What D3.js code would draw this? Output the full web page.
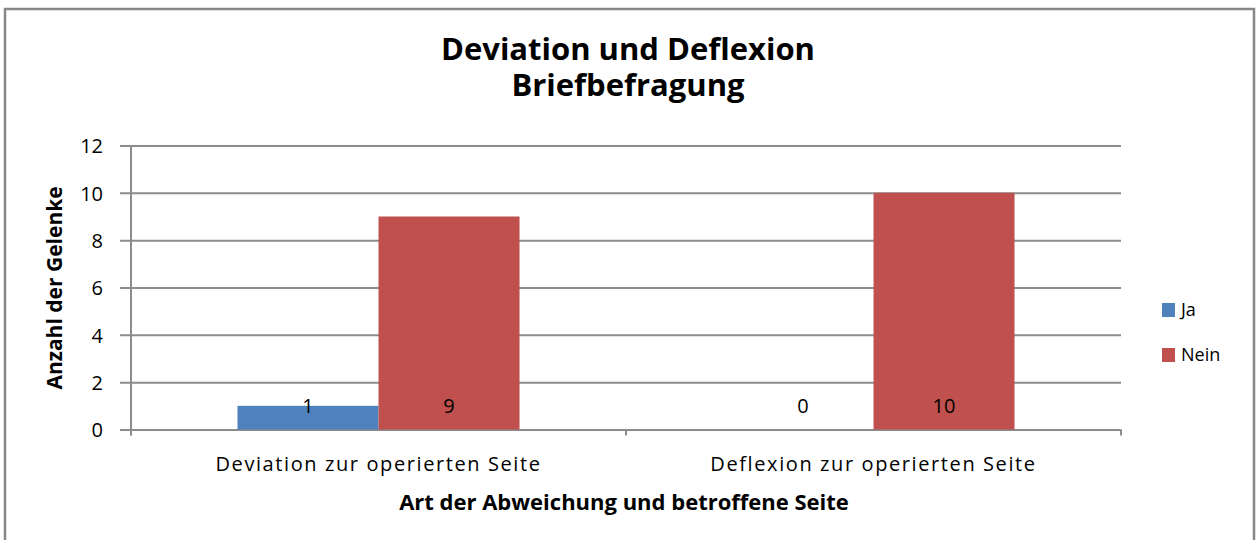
<!DOCTYPE html>
<html>
<head>
<meta charset="utf-8">
<script src="https://cdn.jsdelivr.net/npm/d3@7"></script>
<style>
  html, body { margin: 0; padding: 0; background: #fff; }
  svg { display: block; }
  text { font-family: "Open Sans", "Noto Sans", sans-serif; fill: #000; }
</style>
</head>
<body>
<svg id="chart" width="1256" height="540"></svg>
<script>
const categories = ["Deviation zur operierten Seite", "Deflexion zur operierten Seite"];
const seriesNames = ["Ja", "Nein"];
const jaValues = [1, 0];
const neinValues = [9, 10];
const yTicks = [0, 2, 4, 6, 8, 10, 12];
const titleLines = ["Deviation und Deflexion", "Briefbefragung"];
const yTitle = "Anzahl der Gelenke";
const xTitle = "Art der Abweichung und betroffene Seite";
const colors = ["#4F81BD", "#C0504D"];

const svg = d3.select("#chart");
const plot = { left: 131, right: 1121, top: 145.5, bottom: 429.5 };

// outer frame
svg.append("rect").attr("x", 5).attr("y", 9).attr("width", 1249).attr("height", 560)
  .attr("fill", "#fff").attr("stroke", "#878787").attr("stroke-width", 2.5);

const x0 = d3.scaleBand().domain(categories).range([plot.left, plot.right]).paddingInner(0).paddingOuter(0);
const x1 = d3.scaleBand().domain(seriesNames).range([0, x0.bandwidth()]).paddingInner(0).paddingOuter(0.755);
const y = d3.scaleLinear().domain([0, 12]).range([plot.bottom, plot.top]);

// gridlines + y axis ticks
const yAxis = d3.axisLeft(y).tickValues(yTicks).tickSize(plot.right - plot.left + 11).tickFormat(d => d).tickPadding(17);
const gy = svg.append("g").attr("transform", `translate(${plot.right},0)`).call(yAxis);
gy.select(".domain").remove();
gy.selectAll(".tick line").attr("stroke", "#8c8c8c").attr("stroke-width", 2);
gy.selectAll(".tick text").attr("font-size", 20).attr("fill", "#000").attr("dy", "0.36em")
  .style("font-family", "'Open Sans', sans-serif");

// y axis line
svg.append("line").attr("x1", plot.left).attr("x2", plot.left).attr("y1", plot.top).attr("y2", plot.bottom + 6)
  .attr("stroke", "#8c8c8c").attr("stroke-width", 2);

// x axis ticks
const xBoundaries = [plot.left].concat(categories.map(c => x0(c) + x0.bandwidth()));
svg.selectAll(".xtick").data(xBoundaries).enter().append("line")
  .attr("x1", d => d).attr("x2", d => d).attr("y1", plot.bottom).attr("y2", plot.bottom + 6)
  .attr("stroke", "#8c8c8c").attr("stroke-width", 2);

// bars
const data = categories.map((c, i) => ({ cat: c, vals: [jaValues[i], neinValues[i]] }));
const groups = svg.selectAll(".grp").data(data).enter().append("g")
  .attr("transform", d => `translate(${x0(d.cat)},0)`);
groups.selectAll("rect").data(d => d.vals.map((v, j) => ({ s: seriesNames[j], v, j }))).enter()
  .append("rect")
  .attr("x", d => x1(d.s)).attr("width", x1.bandwidth())
  .attr("y", d => y(d.v)).attr("height", d => y(0) - y(d.v))
  .attr("fill", d => colors[d.j]);
groups.selectAll("text.val").data(d => d.vals.map((v, j) => ({ s: seriesNames[j], v, j }))).enter()
  .append("text").attr("class", "val")
  .attr("x", d => x1(d.s) + x1.bandwidth() / 2).attr("y", y(0) - 17)
  .attr("text-anchor", "middle").attr("font-size", 20)
  .text(d => d.v);

// category labels
svg.selectAll(".catlab").data(categories).enter().append("text")
  .attr("x", d => x0(d) + x0.bandwidth() / 2).attr("y", 471)
  .attr("text-anchor", "middle").attr("font-size", 20).attr("letter-spacing", 1.6)
  .text(d => d);

// title (two lines in one text element)
const t = svg.append("text").attr("text-anchor", "middle").attr("font-size", 31).attr("font-weight", "bold");
titleLines.forEach((l, i) => t.append("tspan").attr("x", 628).attr("y", 60 + i * 36).text(l));

svg.append("text").attr("transform", "translate(62,288) rotate(-90)").attr("text-anchor", "middle")
  .attr("font-size", 21).attr("font-weight", "bold").text(yTitle);

svg.append("text").attr("x", 624).attr("y", 510).attr("text-anchor", "middle")
  .attr("font-size", 22).attr("font-weight", "bold").text(xTitle);

// legend
const leg = svg.selectAll(".leg").data(seriesNames).enter().append("g")
  .attr("transform", (d, i) => `translate(1162,${303 + i * 45})`);
leg.append("rect").attr("width", 13).attr("height", 14).attr("fill", (d, i) => colors[i]);
leg.append("text").attr("x", 19).attr("y", 7).attr("dy", "0.36em").attr("font-size", 18).text(d => d);
</script>
</body>
</html>
